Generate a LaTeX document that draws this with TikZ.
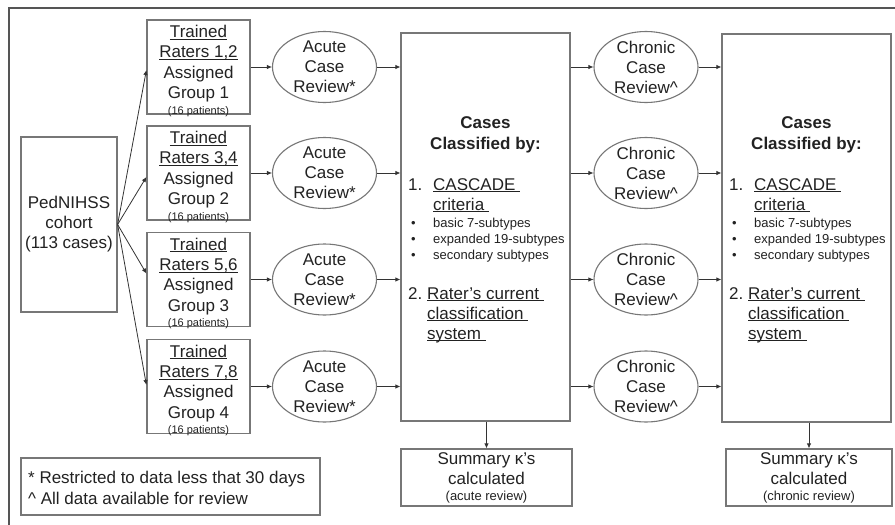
\documentclass[tikz,border=0pt]{standalone}
\usepackage{fontspec}
\setmainfont{Liberation Sans}
\usetikzlibrary{arrows.meta,shapes.geometric,calc}
\definecolor{framec}{HTML}{555555}
\definecolor{boxc}{HTML}{777777}
\definecolor{arrc}{HTML}{333333}
\definecolor{txtc}{HTML}{222222}
\newsavebox\ulbox
\newcommand\ulx[1]{\sbox\ulbox{#1}\rlap{\rule[-2.2pt]{\wd\ulbox}{0.9pt}}\usebox\ulbox}
\newcommand\fs[2]{\fontsize{#1}{#2}\selectfont}
\begin{document}
\begin{tikzpicture}[x=1pt,y=-1pt,
  box/.style={draw=boxc, line width=1.2pt, rectangle, inner sep=0pt, text=txtc},
  ell/.style={draw=boxc, line width=1.1pt, ellipse, minimum width=104pt, minimum height=71pt, inner sep=0pt},
  etext/.style={align=center, font=\fs{17}{20}, text=txtc, inner sep=0pt},
  rtext/.style={align=center, font=\fs{17}{20.3}, text=txtc, inner sep=0pt, yshift=-4pt},
  arr/.style={draw=arrc, line width=0.8pt, -{Latex[length=5pt,width=4.5pt]}},
  txt/.style={text=txtc, inner sep=0pt, anchor=base west}
]
\useasboundingbox (0,0) rectangle (895,525);
\fill[white] (0,0) rectangle (895,525);
\draw[framec, line width=2.5pt] (897,8) -- (9,8) -- (9,527);

% cohort
\node[box, minimum width=96pt, minimum height=175pt, align=center, font=\fs{17}{20}] (ped) at (69,224.5) {PedNIHSS\\cohort\\(113 cases)};

% rater boxes and review ellipses
\foreach \i/\y/\r in {1/67/{1,2},2/173/{3,4},3/279.5/{5,6},4/386.5/{7,8}}{
  \node[box, minimum width=103pt, minimum height=94pt,
    label={[rtext]center:{\ulx{Trained}\\\ulx{Raters \r}\\Assigned\\Group \i\\[-4.5pt]{\fs{11}{13}(16 patients)}}}] (r\i) at (198.5,\y) {};
  \node[ell, label={[etext]center:{Acute\\Case\\Review*}}] (a\i) at (324.5,\y) {};
  \node[ell, label={[etext]center:{Chronic\\Case\\Review\textasciicircum}}] (h\i) at (646,\y) {};
}

% classification boxes
\node[box, minimum width=169pt, minimum height=388pt] (c1) at (485.5,227) {};
\node[box, minimum width=169pt, minimum height=388pt] (c2) at (806.5,228) {};

\foreach \k/\dx in {c1/0,c2/321}{
  \node[font=\bfseries\fs{17}{21}, align=center, text=txtc, inner sep=0pt] (\k head) at (485.5+\dx,134.5) {Cases\\Classified by:};
  \begin{scope}[font=\fs{17}{20}]
    \node[txt] (\k n1) at (408+\dx,190) {1.};
    \node[txt] (\k t1) at (433+\dx,190) {\ulx{CASCADE\ }};
    \node[txt] (\k t2) at (433+\dx,210) {\ulx{criteria\ }};
    \node[txt] (\k n2) at (408+\dx,299) {2.};
    \node[txt] (\k t3) at (427+\dx,299) {\ulx{Rater’s current\ }};
    \node[txt] (\k t4) at (427+\dx,319) {\ulx{classification\ }};
    \node[txt] (\k t5) at (427+\dx,339) {\ulx{system\ }};
  \end{scope}
  \begin{scope}[font=\fs{13}{16}]
    \node[txt] (\k b1) at (411+\dx,227) {•};
    \node[txt] (\k b2) at (411+\dx,243) {•};
    \node[txt] (\k b3) at (411+\dx,259) {•};
    \node[txt] (\k s1) at (433+\dx,227) {basic 7-subtypes};
    \node[txt] (\k s2) at (433+\dx,243) {expanded 19-subtypes};
    \node[txt] (\k s3) at (433+\dx,259) {secondary subtypes};
  \end{scope}
}

% summary boxes
\node[box, minimum width=171pt, minimum height=57pt, align=center, font=\fs{17}{20}] (s1) at (486.5,477.5)
  {Summary κ’s\\calculated\\[-4pt]{\fs{13}{15}(acute review)}};
\node[box, minimum width=166pt, minimum height=57pt, align=center, font=\fs{17}{20}] (s2) at (809,477.5)
  {Summary κ’s\\calculated\\[-4pt]{\fs{13}{15}(chronic review)}};

% legend
\node[box, minimum width=299pt, minimum height=57pt] (leg) at (170.5,486.5) {};
\node[txt, font=\fs{17}{20}] (leg1) at (28,483) {* Restricted to data less that 30 days};
\node[txt, font=\fs{17}{20}] (leg2) at (28,504) {\textasciicircum\ All data available for review};

% arrows
\draw[arr] (ped.east) -- ($(r1.west)+(0,3)$);
\draw[arr] (ped.east) -- ($(r2.west)+(0,4)$);
\draw[arr] (ped.east) -- ($(r3.west)+(0,-6)$);
\draw[arr] (ped.east) -- ($(r4.west)+(0,-1.5)$);
\foreach \i in {1,2,3,4}{
  \draw[arr] (r\i.east) -- (a\i.west);
  \draw[arr] (a\i.east) -- (a\i.east -| c1.west);
  \draw[arr] (a\i.east -| c1.east) -- (h\i.west);
  \draw[arr] (h\i.east) -- (h\i.east -| c2.west);
}
\draw[arr] (c1.south -| s1.north) -- (s1.north);
\draw[arr] (c2.south -| s2.north) -- (s2.north);
\end{tikzpicture}
\end{document}
